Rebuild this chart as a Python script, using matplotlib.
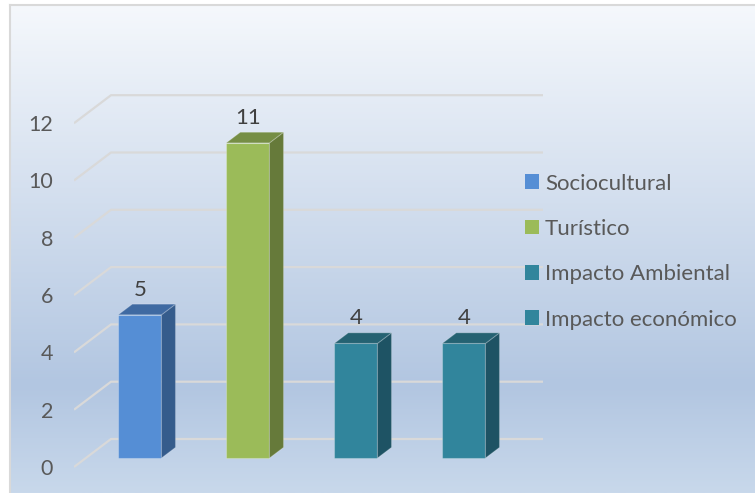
import numpy as np
import matplotlib
matplotlib.use("Agg")
import matplotlib.pyplot as plt
from matplotlib.patches import Polygon, Patch
from matplotlib.colors import LinearSegmentedColormap

# ---- data ----
categories = ["Sociocultural", "Turístico", "Impacto Ambiental", "Impacto económico"]
values = [5, 11, 4, 4]
y_ticks = [0, 2, 4, 6, 8, 10, 12]

# ---- styles ----
front_colors = ["#558ed5", "#9bbb59", "#31859c", "#31859c"]
side_colors = ["#355c8c", "#667a3a", "#1e5364", "#1e5364"]
top_colors = ["#3f6aa2", "#768e45", "#256272", "#256272"]
text_color = "#595959"
grid_color = "#d9d9d9"
font = ["Lato", "DejaVu Sans"]

W, H = 755, 493
fig = plt.figure(figsize=(W / 100, H / 100), dpi=100)
fig.patch.set_facecolor("white")

# chart area background with vertical gradient
bg = fig.add_axes([10 / W, 0, (W - 10) / W, (H - 5) / H])
grad = LinearSegmentedColormap.from_list(
    "bg", [(0.0, "#f5f8fc"), (0.78, "#b2c6e1"), (1.0, "#c8d8eb")])
bg.imshow(np.linspace(0, 1, 256).reshape(-1, 1), aspect="auto", cmap=grad,
          extent=[0, 1, 0, 1], origin="upper")
bg.set_xticks([])
bg.set_yticks([])
for side in ("right", "bottom"):
    bg.spines[side].set_visible(False)
for side in ("left", "top"):
    bg.spines[side].set_color("#d9d9d9")
    bg.spines[side].set_linewidth(1.5)

# plot axes: one category = 108 px, one value unit = 28.65 px
cat_px, unit_px = 108.0, 28.65
left_px, floor_px = 74.0, 467.0
ax = fig.add_axes([left_px / W, 0, (W - left_px) / W, 1])
ax.set_xlim(0, (W - left_px) / cat_px)
ax.set_ylim(-(H - floor_px) / unit_px, floor_px / unit_px)
ax.patch.set_alpha(0)
for s in ax.spines.values():
    s.set_visible(False)
ax.set_xticks([])

# oblique depth offsets (full depth of the floor)
DX = 37.0 / cat_px
DY = 28.0 / unit_px
n = len(categories)

# gridlines: side-wall diagonal + back-wall horizontal
for v in y_ticks:
    ax.plot([0, DX, DX + n], [v, v + DY, v + DY], color=grid_color,
            lw=1.6, solid_capstyle="butt", zorder=1)

ax.set_yticks(y_ticks)
ax.set_yticklabels([str(t) for t in y_ticks], color=text_color,
                   fontsize=15.5, family=font)
ax.tick_params(axis="y", length=0, pad=15)

# 3D-look columns
f_d, b_d = 0.32, 0.70  # front / back depth of each column
half_w = 0.2
for i, (v, cf, cs, ct) in enumerate(zip(values, front_colors, side_colors, top_colors)):
    x0 = i + 0.5 - half_w + f_d * DX
    x1 = i + 0.5 + half_w + f_d * DX
    ddx = (b_d - f_d) * DX
    ddy = (b_d - f_d) * DY
    y0 = f_d * DY
    y1 = v + f_d * DY
    front = Polygon([(x0, y0), (x1, y0), (x1, y1), (x0, y1)], closed=True,
                    facecolor=cf, edgecolor=(1, 1, 1, 0.25), lw=0.8, zorder=3)
    side = Polygon([(x1, y0), (x1 + ddx, y0 + ddy), (x1 + ddx, y1 + ddy), (x1, y1)],
                   closed=True, facecolor=cs, edgecolor=(1, 1, 1, 0.2), lw=0.8, zorder=3)
    top = Polygon([(x0, y1), (x1, y1), (x1 + ddx, y1 + ddy), (x0 + ddx, y1 + ddy)],
                  closed=True, facecolor=ct, edgecolor=(1, 1, 1, 0.2), lw=0.8, zorder=3)
    for p in (front, side, top):
        ax.add_patch(p)
    ax.text((x0 + x1) / 2, v + b_d * DY + 0.5, str(v), ha="center", va="center",
            color="#404040", fontsize=16, family=font, zorder=4)

# legend
handles = [Patch(facecolor=c, edgecolor="none") for c in front_colors]
leg = fig.legend(handles, categories, loc="upper left",
                 bbox_to_anchor=(525 / W, 1 - 173.5 / H),
                 frameon=False, prop={"family": font, "size": 16},
                 handlelength=0.63, handleheight=0.63, handletextpad=0.27,
                 labelspacing=1.14, borderpad=0, borderaxespad=0)
for t in leg.get_texts():
    t.set_color(text_color)

fig.savefig("out.png", dpi=100)
